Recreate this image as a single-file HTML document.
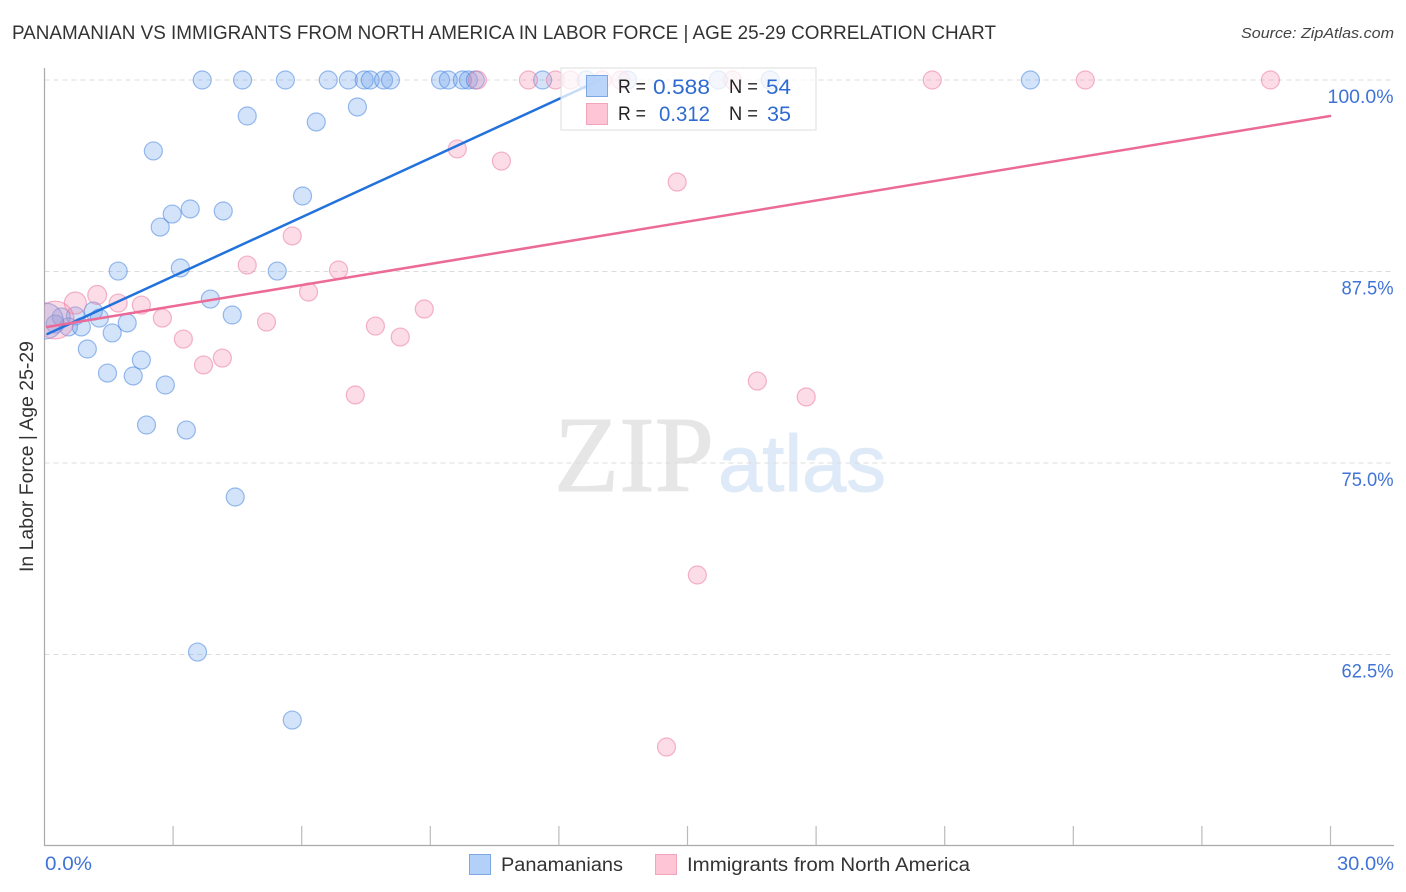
<!DOCTYPE html>
<html lang="en">
<head>
<meta charset="utf-8">
<title>Panamanian vs Immigrants from North America in Labor Force | Age 25-29 Correlation Chart</title>
<style>
html,body{margin:0;padding:0;background:#fff;width:1406px;height:892px;overflow:hidden}
svg{display:block;font-family:"Liberation Sans",sans-serif}
</style>
</head>
<body>
<svg id="chart" width="1406" height="892" viewBox="0 0 1406 892" xmlns="http://www.w3.org/2000/svg">
  <defs>
    <clipPath id="plot-clip"><rect x="44.5" y="50" width="1350" height="795"/></clipPath>
  </defs>
  <text x="12" y="39" font-size="19" fill="#333" textLength="984" lengthAdjust="spacingAndGlyphs">PANAMANIAN VS IMMIGRANTS FROM NORTH AMERICA IN LABOR FORCE | AGE 25-29 CORRELATION CHART</text>
  <text x="1241" y="38" font-size="15" font-style="italic" fill="#444" textLength="153" lengthAdjust="spacingAndGlyphs">Source: ZipAtlas.com</text>
  <g>
    <text x="554" y="491" font-family="'Liberation Serif',serif" font-size="108" fill="#e6e6e6" stroke="#e6e6e6" stroke-width="1" textLength="160" lengthAdjust="spacingAndGlyphs">ZIP</text>
    <text x="718" y="491" font-size="80" fill="#dfeaf8" stroke="#dfeaf8" stroke-width="1" textLength="168" lengthAdjust="spacingAndGlyphs">atlas</text>
  </g>
  <g id="grid"></g>
  <g id="axes"></g>
  <g id="points" clip-path="url(#plot-clip)"></g>
  <g id="lines"></g>
  <g>
    <rect x="561" y="68" width="255" height="62" fill="#fff" fill-opacity="0.75" stroke="#ddd" stroke-width="1"/>
    <rect x="586.5" y="75.5" width="21" height="21" fill="#b3d0f8" fill-opacity="0.9" stroke="#7da8e4"/>
    <rect x="586.5" y="103.5" width="21" height="21" fill="#fdc5d6" stroke="#f0a5bd"/>
    <text x="618" y="93" font-size="19" fill="#222" textLength="28" lengthAdjust="spacingAndGlyphs">R =</text>
    <text x="653" y="94" font-size="21" fill="#2f6bd0" textLength="57" lengthAdjust="spacingAndGlyphs">0.588</text>
    <text x="729" y="93" font-size="19" fill="#222" textLength="29" lengthAdjust="spacingAndGlyphs">N =</text>
    <text x="766" y="94" font-size="21" fill="#2f6bd0" textLength="25" lengthAdjust="spacingAndGlyphs">54</text>
    <text x="618" y="120" font-size="19" fill="#222" textLength="28" lengthAdjust="spacingAndGlyphs">R =</text>
    <text x="659" y="121" font-size="21" fill="#2f6bd0" textLength="51" lengthAdjust="spacingAndGlyphs">0.312</text>
    <text x="729" y="120" font-size="19" fill="#222" textLength="29" lengthAdjust="spacingAndGlyphs">N =</text>
    <text x="767" y="121" font-size="21" fill="#2f6bd0" textLength="24" lengthAdjust="spacingAndGlyphs">35</text>
  </g>
  <text transform="translate(33,572) rotate(-90)" font-size="19" fill="#333" textLength="231" lengthAdjust="spacingAndGlyphs">In Labor Force | Age 25-29</text>
  <text x="45" y="870" font-size="19" fill="#3f73d6" textLength="47" lengthAdjust="spacingAndGlyphs">0.0%</text>
  <text x="1337" y="870" font-size="19" fill="#3f73d6" textLength="57" lengthAdjust="spacingAndGlyphs">30.0%</text>
  <g>
    <rect x="469.5" y="854.5" width="21" height="20" fill="#b3d0f8" stroke="#7da8e4"/>
    <text x="501" y="871" font-size="19" fill="#333" textLength="122" lengthAdjust="spacingAndGlyphs">Panamanians</text>
    <rect x="655.5" y="854.5" width="21" height="20" fill="#fdc5d6" stroke="#f0a5bd"/>
    <text x="687" y="871" font-size="19" fill="#333" textLength="283" lengthAdjust="spacingAndGlyphs">Immigrants from North America</text>
  </g>
</svg>
<script>
const yTickValues = [100, 87.5, 75, 62.5];
const yTickLabels = ["100.0%", "87.5%", "75.0%", "62.5%"];
const xTickValues = [3, 6, 9, 12, 15, 18, 21, 24, 27, 30];

const blueX = [3.67,4.61,5.61,6.61,7.08,7.45,7.59,7.90,8.06,9.23,9.41,9.74,9.88,10.04,11.61,12.63,13.59,15.71,16.92,22.99,
  4.72,6.33,7.29,2.53,6.01,3.39,2.97,4.16,2.69,1.71,3.16,5.42,3.86,4.37,1.13,1.27,0.71,0.38,0.55,0.85,0.24,1.92,1.57,0.99,2.25,1.46,2.06,2.81,2.37,3.30,4.44,3.56,5.77,0.01];
const blueY = [100,100,100,100,100,100,100,100,100,100,100,100,100,100,100,100,100,100,100,100,
  97.65,97.26,98.24,95.37,92.43,91.58,91.25,91.45,90.40,87.53,87.73,87.53,85.70,84.66,84.92,84.46,84.60,84.53,83.88,83.88,84.07,84.14,83.49,82.44,81.72,80.87,80.68,80.09,77.48,77.15,72.78,62.66,58.22,84.27];
const blueWeight = [1,1,1,1,1,1,1,1,1,1,1,1,1,1,1,1,1,1,1,1,
  1,1,1,1,1,1,1,1,1,1,1,1,1,1,1,1,1,1,1,1,1,1,1,1,1,1,1,1,1,1,1,1,1,4];

const pinkX = [10.09,11.28,11.91,12.26,13.00,13.43,16.04,20.70,24.27,28.59,
  9.62,10.65,14.75,5.77,4.72,6.85,6.15,1.22,0.71,1.71,2.25,8.85,2.74,5.17,7.71,8.29,3.23,4.14,3.70,7.24,16.62,17.76,15.22,14.50,0.24];
const pinkY = [100,100,100,100,100,100,100,100,100,100,
  95.50,94.71,93.34,89.82,87.92,87.60,86.16,85.97,85.44,85.44,85.31,85.05,84.46,84.20,83.94,83.22,83.09,81.85,81.40,79.44,80.35,79.31,67.69,56.46,84.33];
const pinkWeight = [1,1,1,1,1,1,1,1,1,1,
  1,1,1,1,1,1,1,1.1,1.5,1,1,1,1,1,1,1,1,1,1,1,1,1,1,1,4.4];

const blueTrendX = [0.07, 12.96];
const blueTrendY = [83.42, 100];
const pinkTrendX = [0.06, 29.99];
const pinkTrendY = [83.88, 97.65];

const NS = "http://www.w3.org/2000/svg";
function xScale(v){ return 44.5 + v * 42.867; }
function yScale(v){ return 80 + (100 - v) * 15.32; }
function radius(w){ return 9 * Math.sqrt(w); }
function mk(tag, parent, attrs){
  const el = document.createElementNS(NS, tag);
  for (const k in attrs) el.setAttribute(k, attrs[k]);
  parent.appendChild(el);
  return el;
}

const grid = document.getElementById("grid");
const axes = document.getElementById("axes");
yTickValues.forEach(function(v, i){
  const y = yScale(v);
  const line = mk("line", grid, {x1:44.5, x2:1394, y1:y, y2:y, stroke:"#dcdcdc", "stroke-width":1, "stroke-dasharray":"5 4"});
  
  
  const t = mk("text", axes, {x:1393.5, y:y + 23, "text-anchor":"end", "font-size":19, fill:"#3f73d6", textLength: i === 0 ? 66 : 52, lengthAdjust:"spacingAndGlyphs"});
  t.textContent = yTickLabels[i];
  
  
});

const yAxis = mk("line", axes, {x1:44.5, x2:44.5, y1:68, y2:845.5, stroke:"#aaa", "stroke-width":1.2});


const xAxis = mk("line", axes, {x1:44, x2:1394, y1:845.5, y2:845.5, stroke:"#aaa", "stroke-width":1.2});


xTickValues.forEach(function(v){
  const x = xScale(v);
  const tick = mk("line", axes, {x1:x, x2:x, y1:826, y2:845, stroke:"#bbb", "stroke-width":1.2});
  
  
});

const points = document.getElementById("points");
blueX.forEach(function(v, i){
  const c = mk("circle", points, {cx:xScale(v) + 0.4, cy:yScale(blueY[i]), r:radius(blueWeight[i]), fill:"#6ea3ea", "fill-opacity":0.3, stroke:"#4a86de", "stroke-opacity":0.55, "stroke-width":1.2});
  
  
});
pinkX.forEach(function(v, i){
  const c = mk("circle", points, {cx:xScale(v) + 0.4, cy:yScale(pinkY[i]), r:radius(pinkWeight[i]), fill:"#f48fb0", "fill-opacity":0.3, stroke:"#ea6f98", "stroke-opacity":0.5, "stroke-width":1.2});
  
  
});

const lines = document.getElementById("lines");
const blueLine = mk("line", lines, {x1:xScale(blueTrendX[0]), y1:yScale(blueTrendY[0]), x2:xScale(blueTrendX[1]), y2:yScale(blueTrendY[1]), stroke:"#2272dd", "stroke-width":2.5, "stroke-linecap":"round"});


const pinkLine = mk("line", lines, {x1:xScale(pinkTrendX[0]), y1:yScale(pinkTrendY[0]), x2:xScale(pinkTrendX[1]), y2:yScale(pinkTrendY[1]), stroke:"#ec6a98", "stroke-width":2.5, "stroke-linecap":"round"});


</script>
</body>
</html>
